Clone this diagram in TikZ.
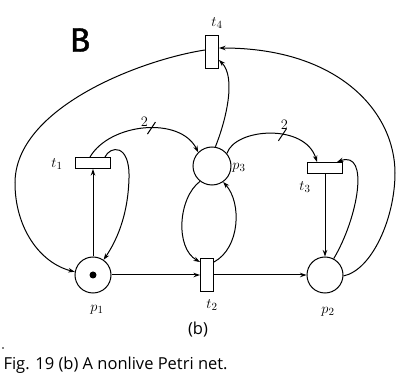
\documentclass[tikz,border=0pt]{standalone}
\usepackage{fontspec}
\newfontfamily\capfont{Open Sans}
\newfontfamily\bigfont[FakeBold=1.2]{Fira Sans}
\usetikzlibrary{arrows.meta}

\begin{document}
\begin{tikzpicture}[x=1pt,y=1pt,
  place/.style={circle,draw,line width=1pt,minimum size=36pt,inner sep=0pt},
  trans/.style={rectangle,draw,line width=1pt,inner sep=0pt},
  hbar/.style={trans,minimum width=35pt,minimum height=11pt},
  vbar/.style={trans,minimum width=13pt,minimum height=33pt},
  arc/.style={line width=1pt,-{Stealth[length=6.5pt,width=4.5pt]}},
  tick/.style={line width=1pt},
  lbl/.style={font=\fontsize{15}{15}\selectfont},
  caption/.style={font=\capfont\fontsize{16.5}{18}\selectfont},
]
\useasboundingbox (0,0) rectangle (397,378);

% places
\node[place] (p1) at (93,103) {};
\node[place] (p2) at (325,103) {};
\node[place,minimum size=38pt] (p3) at (212,212) {};
\fill (p1.center) circle (3.5pt);

% transitions
\node[hbar] (t1) at (93,215) {};
\node[vbar] (t2) at (207,103) {};
\node[hbar] (t3) at (325,210) {};
\node[vbar] (t4) at (212,326) {};

% labels
\node[lbl] (lt1) at (57,214) {$t_1$};
\node[lbl] (lt2) at (212,73) {$t_2$};
\node[lbl] (lt3) at (305,191) {$t_3$};
\node[lbl] (lt4) at (217,355) {$t_4$};
\node[lbl] (lp1) at (97,68) {$p_1$};
\node[lbl] (lp2) at (328,66) {$p_2$};
\node[lbl] (lp3) at (239,210) {$p_3$};

% arcs
\draw[arc] (p1.north) -- (t1.south);
\draw[arc] ([xshift=-6pt]t1.north east) .. controls (110,232) and (130,235) .. (129,200)
  .. controls (128,160) and (115,135) .. (p1.55);
\draw[arc] ([xshift=-3pt]t1.north) .. controls (110,255) and (180,262) .. coordinate[pos=0.55] (w1) (p3.135);
\draw[arc] (p3.80) .. controls (225,255) and (237,300) .. ([yshift=-8pt]t4.east);
\draw[arc] (p3.40) .. controls (235,250) and (305,255) .. coordinate[pos=0.6] (w2) ([xshift=-8pt]t3.north);
\draw[arc] (t3.south) -- (p2.north);
\draw[arc] (p2.62) .. controls (358,160) and (370,228) .. ([xshift=-6pt]t3.north east);
\draw[arc] (p2.-3) .. controls (372,108) and (395,160) .. (395,205)
  .. controls (395,265) and (340,330) .. ([yshift=4pt]t4.east);
\draw[arc] ([yshift=2pt]t4.west) .. controls (140,318) and (15,270) .. (15,195)
  .. controls (15,150) and (40,115) .. (p1.170);
\draw[arc] (p1.east) -- (t2.west);
\draw[arc] (t2.east) -- (p2.west);
\draw[arc] (p3.232) .. controls (178,180) and (175,130) .. ([yshift=-4pt]t2.north west);
\draw[arc] ([yshift=-4pt]t2.north east) .. controls (240,130) and (242,175) .. (p3.-55);

% arc weights
\draw[tick] ([shift={(-4,-6)}]w1) -- ([shift={(4,6)}]w1);
\node[lbl] (n1) at ([shift={(-7,6)}]w1) {$2$};
\draw[tick] ([shift={(-4,-6)}]w2) -- ([shift={(4,6)}]w2);
\node[lbl] (n2) at ([shift={(2,10)}]w2) {$2$};

% titles
\node[font=\bigfont\fontsize{34}{34}\selectfont] (big) at (80,338) {B};
\node[caption] (sub) at (198,48) {(b)};
\node[caption,anchor=west] (cap) at (0,13) {Fig. 19 (b) A nonlive Petri net.};
\fill (3,30) circle (0.8pt);
\end{tikzpicture}
\end{document}
